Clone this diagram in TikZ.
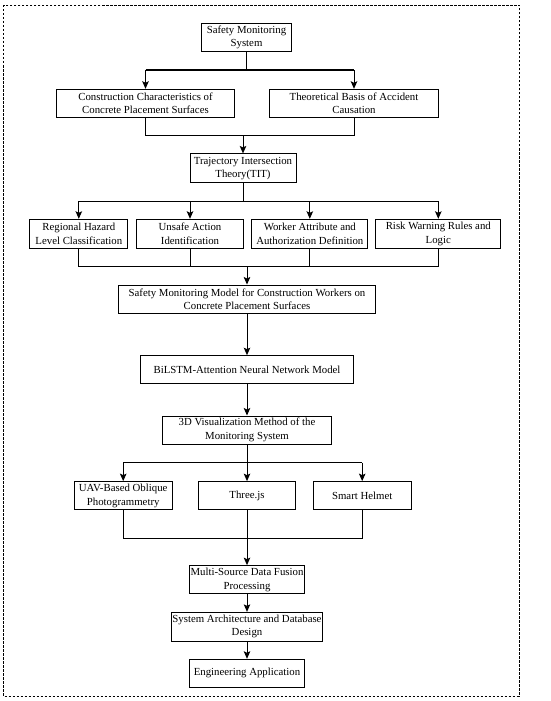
\documentclass[tikz,border=0pt]{standalone}
\usepackage{fontspec}
\setmainfont{Liberation Serif}
\usetikzlibrary{arrows.meta}
\begin{document}
\begin{tikzpicture}[x=1pt,y=-1pt,
  box/.style={draw,line width=1pt,inner sep=0pt,align=center,
    font=\fontsize{10.8}{13.3}\selectfont},
  conn/.style={line width=1pt},
  arr/.style={line width=1pt,-{Stealth[length=7.5pt,width=6.5pt,inset=1.5pt]}},
  frame/.style={line width=0.6pt,dash pattern=on 2.5pt off 1.5pt}]
\useasboundingbox (0,0) rectangle (550,701);
\draw[frame] (3.5,5) rectangle (519,696);
\newcommand{\bx}[6]{\node[box,minimum width=#4pt,minimum height=#5pt] (#1) at (#2,#3) {#6};}
\bx{top}{246.5}{37.5}{89.3}{28.4}{Safety Monitoring\\System}
\bx{cc}{145.5}{103.3}{177.6}{28}{Construction Characteristics of\\Concrete Placement Surfaces}
\bx{tb}{354}{103.3}{169.4}{28}{Theoretical Basis of Accident\\Causation}
\bx{tit}{243}{168.3}{106}{28.7}{Trajectory Intersection\\Theory(TIT)}
\bx{ra}{78.8}{233.8}{97.7}{29}{Regional Hazard\\Level Classification}
\bx{ua}{190}{233.8}{106.6}{29}{Unsafe Action\\Identification}
\bx{wa}{309.8}{233.8}{115.7}{29}{Worker Attribute and\\Authorization Definition}
\bx{rw}{438.3}{233.8}{124.7}{29}{Risk Warning Rules and\\Logic}
\bx{smm}{247}{299.2}{257.7}{28.3}{Safety Monitoring Model for Construction Workers on\\Concrete Placement Surfaces}
\bx{bil}{247}{369.5}{213.3}{27.6}{BiLSTM-Attention Neural Network Model}
\bx{viz}{247}{430}{168.7}{28}{3D Visualization Method of the\\Monitoring System}
\bx{uav}{123.2}{495.8}{98.3}{28.3}{UAV-Based Oblique\\Photogrammetry}
\bx{three}{247}{495.8}{97.3}{28.3}{Three.js}
\bx{helm}{362.2}{495.8}{97.7}{28.3}{Smart Helmet}
\bx{mul}{247}{579.8}{115.3}{28.3}{Multi-Source Data Fusion\\Processing}
\bx{sys}{247}{626.7}{151}{28.7}{System Architecture and Database\\Design}
\bx{eng}{247}{673.3}{115.3}{28}{Engineering Application}
% split 1
\coordinate (s1) at (top.south |- 0,70);
\coordinate (s1l) at (cc.north |- s1);
\coordinate (s1r) at (tb.north |- s1);
\draw[conn] (top.south) -- (s1);
\draw[conn] (s1l) -- (s1r);
\draw[arr] (s1l) -- (cc.north);
\draw[arr] (s1r) -- (tb.north);
% merge 1
\coordinate (j1) at (tit.north |- 0,135.7);
\draw[conn] (cc.south) |- (j1) -| (tb.south);
\draw[arr] (j1) -- (tit.north);
% split 2
\coordinate (s2) at (tit.south |- 0,201);
\coordinate (s2l) at (ra.north |- s2);
\coordinate (s2r) at (rw.north |- s2);
\draw[conn] (tit.south) -- (s2);
\draw[conn] (s2l) -- (s2r);
\draw[arr] (s2l) -- (ra.north);
\draw[arr] (ua.north |- s2) -- (ua.north);
\draw[arr] (wa.north |- s2) -- (wa.north);
\draw[arr] (s2r) -- (rw.north);
% merge 2
\coordinate (j2) at (smm.north |- 0,266.7);
\draw[conn] (ra.south) |- (j2) -| (rw.south);
\draw[conn] (ua.south) -- (ua.south |- j2);
\draw[conn] (wa.south) -- (wa.south |- j2);
\draw[arr] (j2) -- (smm.north);
\draw[arr] (smm.south) -- (bil.north);
\draw[arr] (bil.south) -- (viz.north);
% split 3
\coordinate (s3) at (viz.south |- 0,462.7);
\coordinate (s3l) at (uav.north |- s3);
\coordinate (s3r) at (helm.north |- s3);
\draw[conn] (viz.south) -- (s3);
\draw[conn] (s3l) -- (s3r);
\draw[arr] (s3l) -- (uav.north);
\draw[arr] (s3) -- (three.north);
\draw[arr] (s3r) -- (helm.north);
% merge 3
\coordinate (j3) at (mul.north |- 0,538.3);
\draw[conn] (uav.south) |- (j3) -| (helm.south);
\draw[conn] (three.south) -- (j3);
\draw[arr] (j3) -- (mul.north);
\draw[arr] (mul.south) -- (sys.north);
\draw[arr] (sys.south) -- (eng.north);
\end{tikzpicture}
\end{document}
